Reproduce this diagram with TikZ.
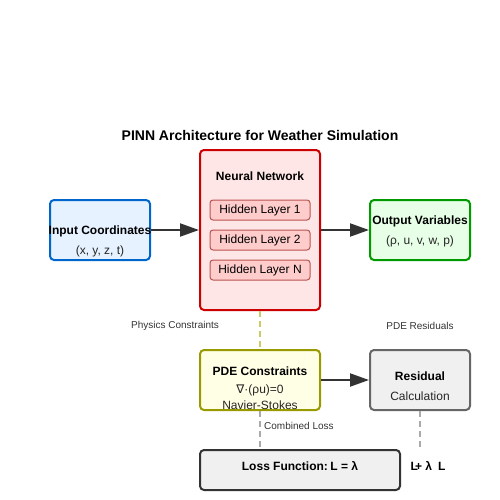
\documentclass[tikz,border=0pt]{standalone}
\usepackage{fontspec}
\setmainfont{Liberation Sans}
\newfontfamily\symfont{DejaVu Sans}
\usetikzlibrary{arrows.meta}
\definecolor{nnfill}{HTML}{FFE6E6}
\definecolor{nnline}{HTML}{CC0000}
\definecolor{hlfill}{HTML}{FFCCCC}
\definecolor{hlline}{HTML}{B85450}
\definecolor{infill}{HTML}{E6F2FF}
\definecolor{inline}{HTML}{0066CC}
\definecolor{outfill}{HTML}{E6FFE6}
\definecolor{outline}{HTML}{009900}
\definecolor{pdefill}{HTML}{FFFFE6}
\definecolor{pdeline}{HTML}{999900}
\definecolor{resfill}{HTML}{F0F0F0}
\definecolor{resline}{HTML}{666666}
\definecolor{dark}{HTML}{333333}
\definecolor{olive}{HTML}{CCCC66}
\definecolor{grayd}{HTML}{AAAAAA}
\begin{document}
\begin{tikzpicture}[x=1pt,y=-1pt,
  box/.style={draw, line width=2pt, rounded corners=4pt, inner sep=0pt},
  hl/.style={draw=hlline, fill=hlfill, line width=1pt, rounded corners=3pt, minimum width=100pt, minimum height=20pt, inner sep=0pt, font=\fontsize{12}{14}\selectfont},
  btxt/.style={font=\fontsize{12}{14}\selectfont\bfseries, text=black, inner sep=0pt},
  ntxt/.style={font=\fontsize{12}{14}\selectfont, text=black!85, inner sep=0pt},
  small/.style={font=\fontsize{10}{12}\selectfont, text=black!80, inner sep=0pt},
  flow/.style={draw=dark, line width=2pt, -{Triangle[length=19pt,width=13pt]}},
  dashline/.style={line width=2pt, dash pattern=on 6pt off 4pt}
]
\useasboundingbox (0,0) rectangle (500,500);
\node[font=\fontsize{14}{16}\selectfont\bfseries, inner sep=0pt] (title) at (260,135) {PINN Architecture for Weather Simulation};

% neural network
\node[box, draw=nnline, fill=nnfill, minimum width=120pt, minimum height=160pt] (nn) at (260,230) {};
\node[btxt] (nntitle) at (260,176) {Neural Network};
\node[hl] (h1) at (260,210) {Hidden Layer 1};
\node[hl] (h2) at (260,240) {Hidden Layer 2};
\node[hl] (h3) at (260,270) {Hidden Layer N};

% input
\node[box, draw=inline, fill=infill, minimum width=100pt, minimum height=60pt] (in) at (100,230) {};
\node[btxt] (intitle) at (100,231) {Input Coordinates};
\node[ntxt] (insub) at (100,251) {(x, y, z, t)};

% output
\node[box, draw=outline, fill=outfill, minimum width=100pt, minimum height=60pt] (out) at (420,230) {};
\node[btxt] (outtitle) at (420,221) {Output Variables};
\node[ntxt] (outsub) at (420,241) {(ρ, u, v, w, p)};

\draw[flow] (in.east) -- (nn.west);
\draw[flow] (nn.east) -- (out.west);

% PDE constraints
\node[box, draw=pdeline, fill=pdefill, minimum width=120pt, minimum height=60pt] (pde) at (260,380) {};
\node[btxt] (pdetitle) at (260,371) {PDE Constraints};
\node[ntxt] (pdeeq) at (260,390) {{\symfont ∇}·(ρu)=0};
\node[ntxt] (pdens) at (260,405) {Navier-Stokes};

% residual
\node[box, draw=resline, fill=resfill, minimum width=100pt, minimum height=60pt] (res) at (420,380) {};
\node[btxt] (restitle) at (420,376) {Residual};
\node[ntxt] (ressub) at (420,396) {Calculation};

\draw[flow] (pde.east) -- (res.west);

% loss
\node[box, draw=dark, fill=resfill, minimum width=200pt, minimum height=40pt] (loss) at (300,470) {};
\node[btxt] (losstitle) at (300,466) {Loss Function:\hspace{2.5pt}L = λ};
\node[btxt] (lossrest) at (428,466) {L\kern-3pt+ λ\hspace{6pt}L};

% dashed connectors
\draw[dashline, draw=olive] (nn.south) -- (pde.north);
\coordinate (pdeend) at (260,450);
\draw[dashline, draw=grayd] (pde.south) -- (pdeend);
\coordinate (resend) at (420,450);
\draw[dashline, draw=grayd] (res.south) -- (resend);

% labels
\node[small] (lphys) at (175,326) {Physics Constraints};
\node[small] (lres) at (420,326) {PDE Residuals};
\node[small, anchor=west] (lcomb) at (264,426) {Combined Loss};
\end{tikzpicture}
\end{document}
